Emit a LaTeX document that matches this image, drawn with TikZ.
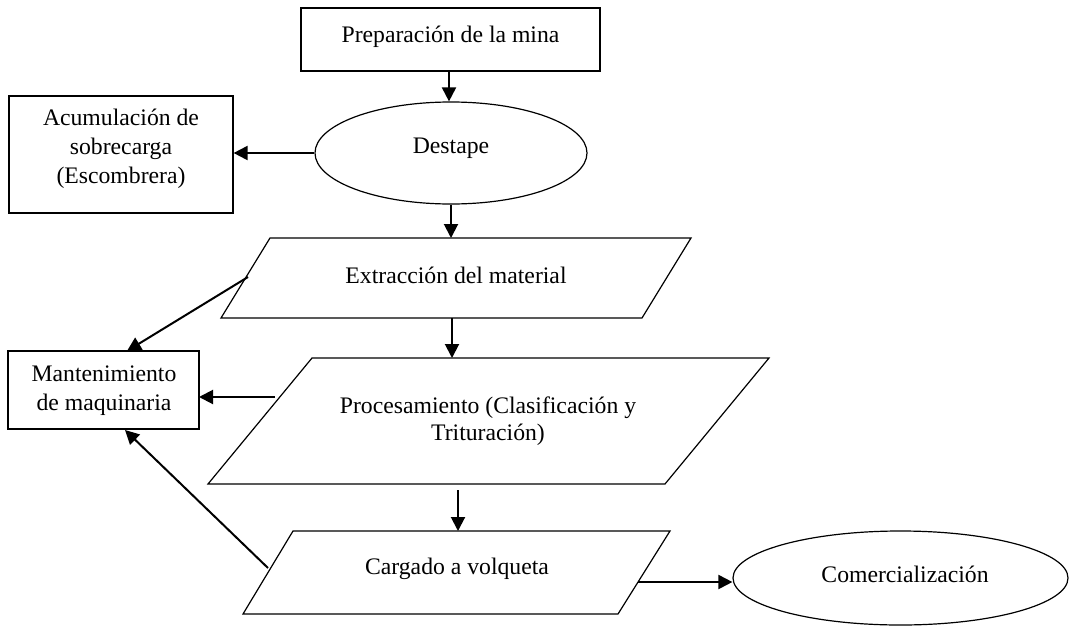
\documentclass[tikz,border=0pt]{standalone}
\usepackage{fontspec}
\setmainfont{Liberation Serif}
\usetikzlibrary{arrows.meta,shapes.geometric}
\begin{document}
\begin{tikzpicture}[x=1pt,y=-1pt,
  box/.style={draw,line width=1.2pt,rectangle,inner sep=0pt},
  oval/.style={draw,line width=1.2pt,ellipse,inner sep=0pt},
  para/.style={draw,line width=1.2pt},
  txt/.style={font=\fontsize{23.7}{29}\selectfont,align=center,inner sep=0pt},
  conn/.style={line width=2pt,-{Triangle[length=14pt,width=14pt]}}]
\useasboundingbox (0,0) rectangle (1070,626);
% shapes
\node[box,minimum width=299pt,minimum height=63pt] (prep) at (450.5,39.5) {};
\node[txt] at (450.5,37) {Preparación de la mina};
\node[oval,minimum width=272pt,minimum height=102pt] (dest) at (451,153) {};
\node[txt] at (451,148) {Destape};
\node[box,minimum width=224pt,minimum height=117pt] (acum) at (121,154.5) {};
\node[txt] at (121,149) {Acumulación de\\sobrecarga\\(Escombrera)};
\coordinate (e1) at (270,238); \coordinate (e2) at (691,238);
\coordinate (e3) at (642,318); \coordinate (e4) at (221,318);
\draw[para] (e1) -- (e2) -- (e3) -- (e4) -- cycle;
\node[txt] (extr) at (456,275) {Extracción del material};
\node[box,minimum width=191pt,minimum height=78pt] (mant) at (103.5,390) {};
\node[txt] at (104,391) {Mantenimiento\\de maquinaria};
\coordinate (p1) at (312,358); \coordinate (p2) at (769,358);
\coordinate (p3) at (665,484); \coordinate (p4) at (208,484);
\draw[para] (p1) -- (p2) -- (p3) -- (p4) -- cycle;
\node[txt,font=\fontsize{23.7}{27}\selectfont] (proc) at (488,421) {Procesamiento (Clasificación y\\Trituración)};
\coordinate (c1) at (293,531); \coordinate (c2) at (670,531);
\coordinate (c3) at (618,614); \coordinate (c4) at (243,614);
\draw[para] (c1) -- (c2) -- (c3) -- (c4) -- cycle;
\node[txt] (carg) at (457,569) {Cargado a volqueta};
\node[oval,minimum width=335pt,minimum height=94pt] (comer) at (900.5,578) {};
\node[txt] at (905,574) {Comercialización};
% connector endpoints
\coordinate (extrTop) at (451,238);
\coordinate (extrBot) at (452,318);
\coordinate (extrL) at (248,277);
\coordinate (procTop) at (452,358);
\coordinate (procL) at (275,397);
\coordinate (procBotA) at (458,490);
\coordinate (cargTop) at (458,531);
\coordinate (cargL) at (268,568);
\coordinate (cargR) at (638,582);
\coordinate (mantTop) at (127,351);
\coordinate (mantBot) at (125,430);
\coordinate (mantR) at (199,397);
% connectors
\draw[conn] (prep.south -| 449,0) -- (dest.north -| 449,0);
\draw[conn] (dest.west) -- (acum.east |- dest.west);
\draw[conn] (dest.south) -- (extrTop);
\draw[conn] (extrBot) -- (procTop);
\draw[conn] (extrL) -- (mantTop);
\draw[conn] (procL) -- (mantR);
\draw[conn] (procBotA) -- (cargTop);
\draw[conn] (cargL) -- (mantBot);
\draw[conn] (cargR) -- (comer.west |- cargR);
\end{tikzpicture}
\end{document}
